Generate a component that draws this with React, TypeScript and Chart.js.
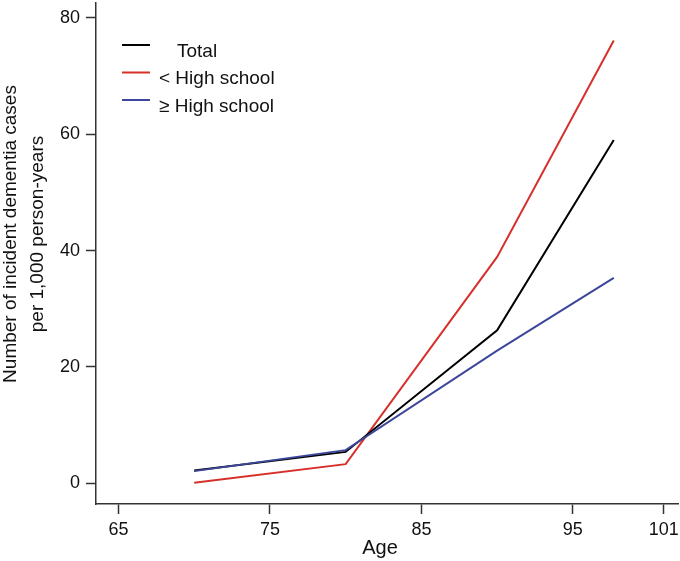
import React, { useEffect, useRef } from 'react';
import { Chart, registerables } from 'chart.js';

Chart.register(...registerables);

// ---- Data ----
const ages = [70, 80, 90, 97.7];
const totalRates = [2.2, 5.4, 26.3, 59.0];
const lessThanHighSchool = [0.1, 3.3, 38.9, 76.1];
const atLeastHighSchool = [2.1, 5.7, 22.8, 35.3];
const seriesLabels = ['Total', '< High school', '≥ High school'];
const xTickValues = [65, 75, 85, 95, 101];
const yTickValues = [0, 20, 40, 60, 80];
const xTitle = 'Age';
const yTitle = ['Number of incident dementia cases', 'per 1,000 person-years'];

const FONT = '"Liberation Sans", Arial, Helvetica, sans-serif';
const AXIS_COLOR = '#333333';
const TEXT_COLOR = '#111111';
const seriesColors = ['#000000', '#d7302b', '#3c479b'];

const insideLegend = {
  id: 'insideLegend',
  afterDatasetsDraw(chart: any) {
    const { ctx, chartArea } = chart;
    ctx.save();
    ctx.font = `19px ${FONT}`;
    ctx.textBaseline = 'alphabetic';
    ctx.textAlign = 'left';
    ctx.fillStyle = TEXT_COLOR;
    chart.data.datasets.forEach((ds: any, i: number) => {
      const y = chartArea.top + 42 + i * 27.5;
      ctx.strokeStyle = ds.borderColor;
      ctx.lineWidth = 2;
      ctx.beginPath();
      ctx.moveTo(chartArea.left + 26, y);
      ctx.lineTo(chartArea.left + 54, y);
      ctx.stroke();
      const indent = i === 0 ? 18 : 0;
      ctx.fillText(ds.label, chartArea.left + 63 + indent, y + 11.5);
    });
    ctx.restore();
  },
};

const axisTitles = {
  id: 'axisTitles',
  afterDraw(chart: any) {
    const { ctx, chartArea } = chart;
    ctx.save();
    ctx.fillStyle = TEXT_COLOR;
    // y title (rotated, two lines)
    ctx.font = `19px ${FONT}`;
    ctx.textAlign = 'center';
    ctx.textBaseline = 'middle';
    const cy = (chartArea.top + chartArea.bottom) / 2 - 19.5;
    yTitle.forEach((line, i) => {
      ctx.save();
      ctx.translate(11.2 + i * 26.7, cy);
      ctx.rotate(-Math.PI / 2);
      ctx.fillText(line, 0, 0);
      ctx.restore();
    });
    // x title
    ctx.font = `20px ${FONT}`;
    ctx.textBaseline = 'alphabetic';
    ctx.fillText(xTitle, (chartArea.left + chartArea.right) / 2 - 7, chartArea.bottom + 50.3);
    ctx.restore();
  },
};

export default function App() {
  const canvasRef = useRef<HTMLCanvasElement | null>(null);

  useEffect(() => {
    const canvas = canvasRef.current;
    if (!canvas) return;
    const series = [totalRates, lessThanHighSchool, atLeastHighSchool];
    const drawOrder = [1, 2, 0];
    const chart = new Chart(canvas, {
      type: 'line',
      data: {
        datasets: series.map((vals, i) => ({
          label: seriesLabels[i],
          data: ages.map((a, j) => ({ x: a, y: vals[j] })),
          borderColor: seriesColors[i],
          backgroundColor: seriesColors[i],
          borderWidth: 2,
          pointRadius: 0,
          pointHoverRadius: 0,
          tension: 0,
          fill: false,
          order: drawOrder[i],
        })),
      },
      options: {
        animation: false,
        responsive: false,
        devicePixelRatio: 1,
        events: [],
        layout: { padding: { top: 3, right: 2, bottom: 0, left: 0 } },
        plugins: {
          legend: { display: false },
          tooltip: { enabled: false },
          title: { display: false },
        },
        scales: {
          x: {
            type: 'linear',
            min: 63.52,
            max: 101.94,
            afterBuildTicks: (s: any) => {
              s.ticks = xTickValues.map((v) => ({ value: v }));
            },
            afterFit: (s: any) => {
              s.height = 57;
              s.paddingLeft = 0;
              s.paddingRight = 0;
            },
            grid: {
              display: true,
              drawOnChartArea: false,
              drawTicks: true,
              tickLength: 10,
              tickWidth: 1.5,
              tickColor: AXIS_COLOR,
            },
            border: { display: true, color: AXIS_COLOR, width: 1.5 },
            ticks: {
              autoSkip: false,
              maxRotation: 0,
              minRotation: 0,
              padding: 5,
              color: TEXT_COLOR,
              font: { family: FONT, size: 18 },
              callback: (v: any) => `${v}`,
            },
            title: { display: false },
          },
          y: {
            type: 'linear',
            min: -3.55,
            max: 82.53,
            afterBuildTicks: (s: any) => {
              s.ticks = yTickValues.map((v) => ({ value: v }));
            },
            afterFit: (s: any) => {
              s.width = 96;
              s.paddingTop = 0;
              s.paddingBottom = 0;
            },
            grid: {
              display: true,
              drawOnChartArea: false,
              drawTicks: true,
              tickLength: 10,
              tickWidth: 1.5,
              tickColor: AXIS_COLOR,
            },
            border: { display: true, color: AXIS_COLOR, width: 1.5 },
            ticks: {
              autoSkip: false,
              padding: 6,
              color: TEXT_COLOR,
              font: { family: FONT, size: 18 },
              callback: (v: any) => `${v}`,
            },
            title: { display: false },
          },
        },
      },
      plugins: [insideLegend, axisTitles],
    } as any);
    return () => chart.destroy();
  }, []);

  return (
    <div style={{ position: 'fixed', left: 0, top: 0, width: 680, height: 561, background: '#ffffff' }}>
      <canvas ref={canvasRef} width={680} height={561} style={{ display: 'block', width: 680, height: 561 }} />
    </div>
  );
}
